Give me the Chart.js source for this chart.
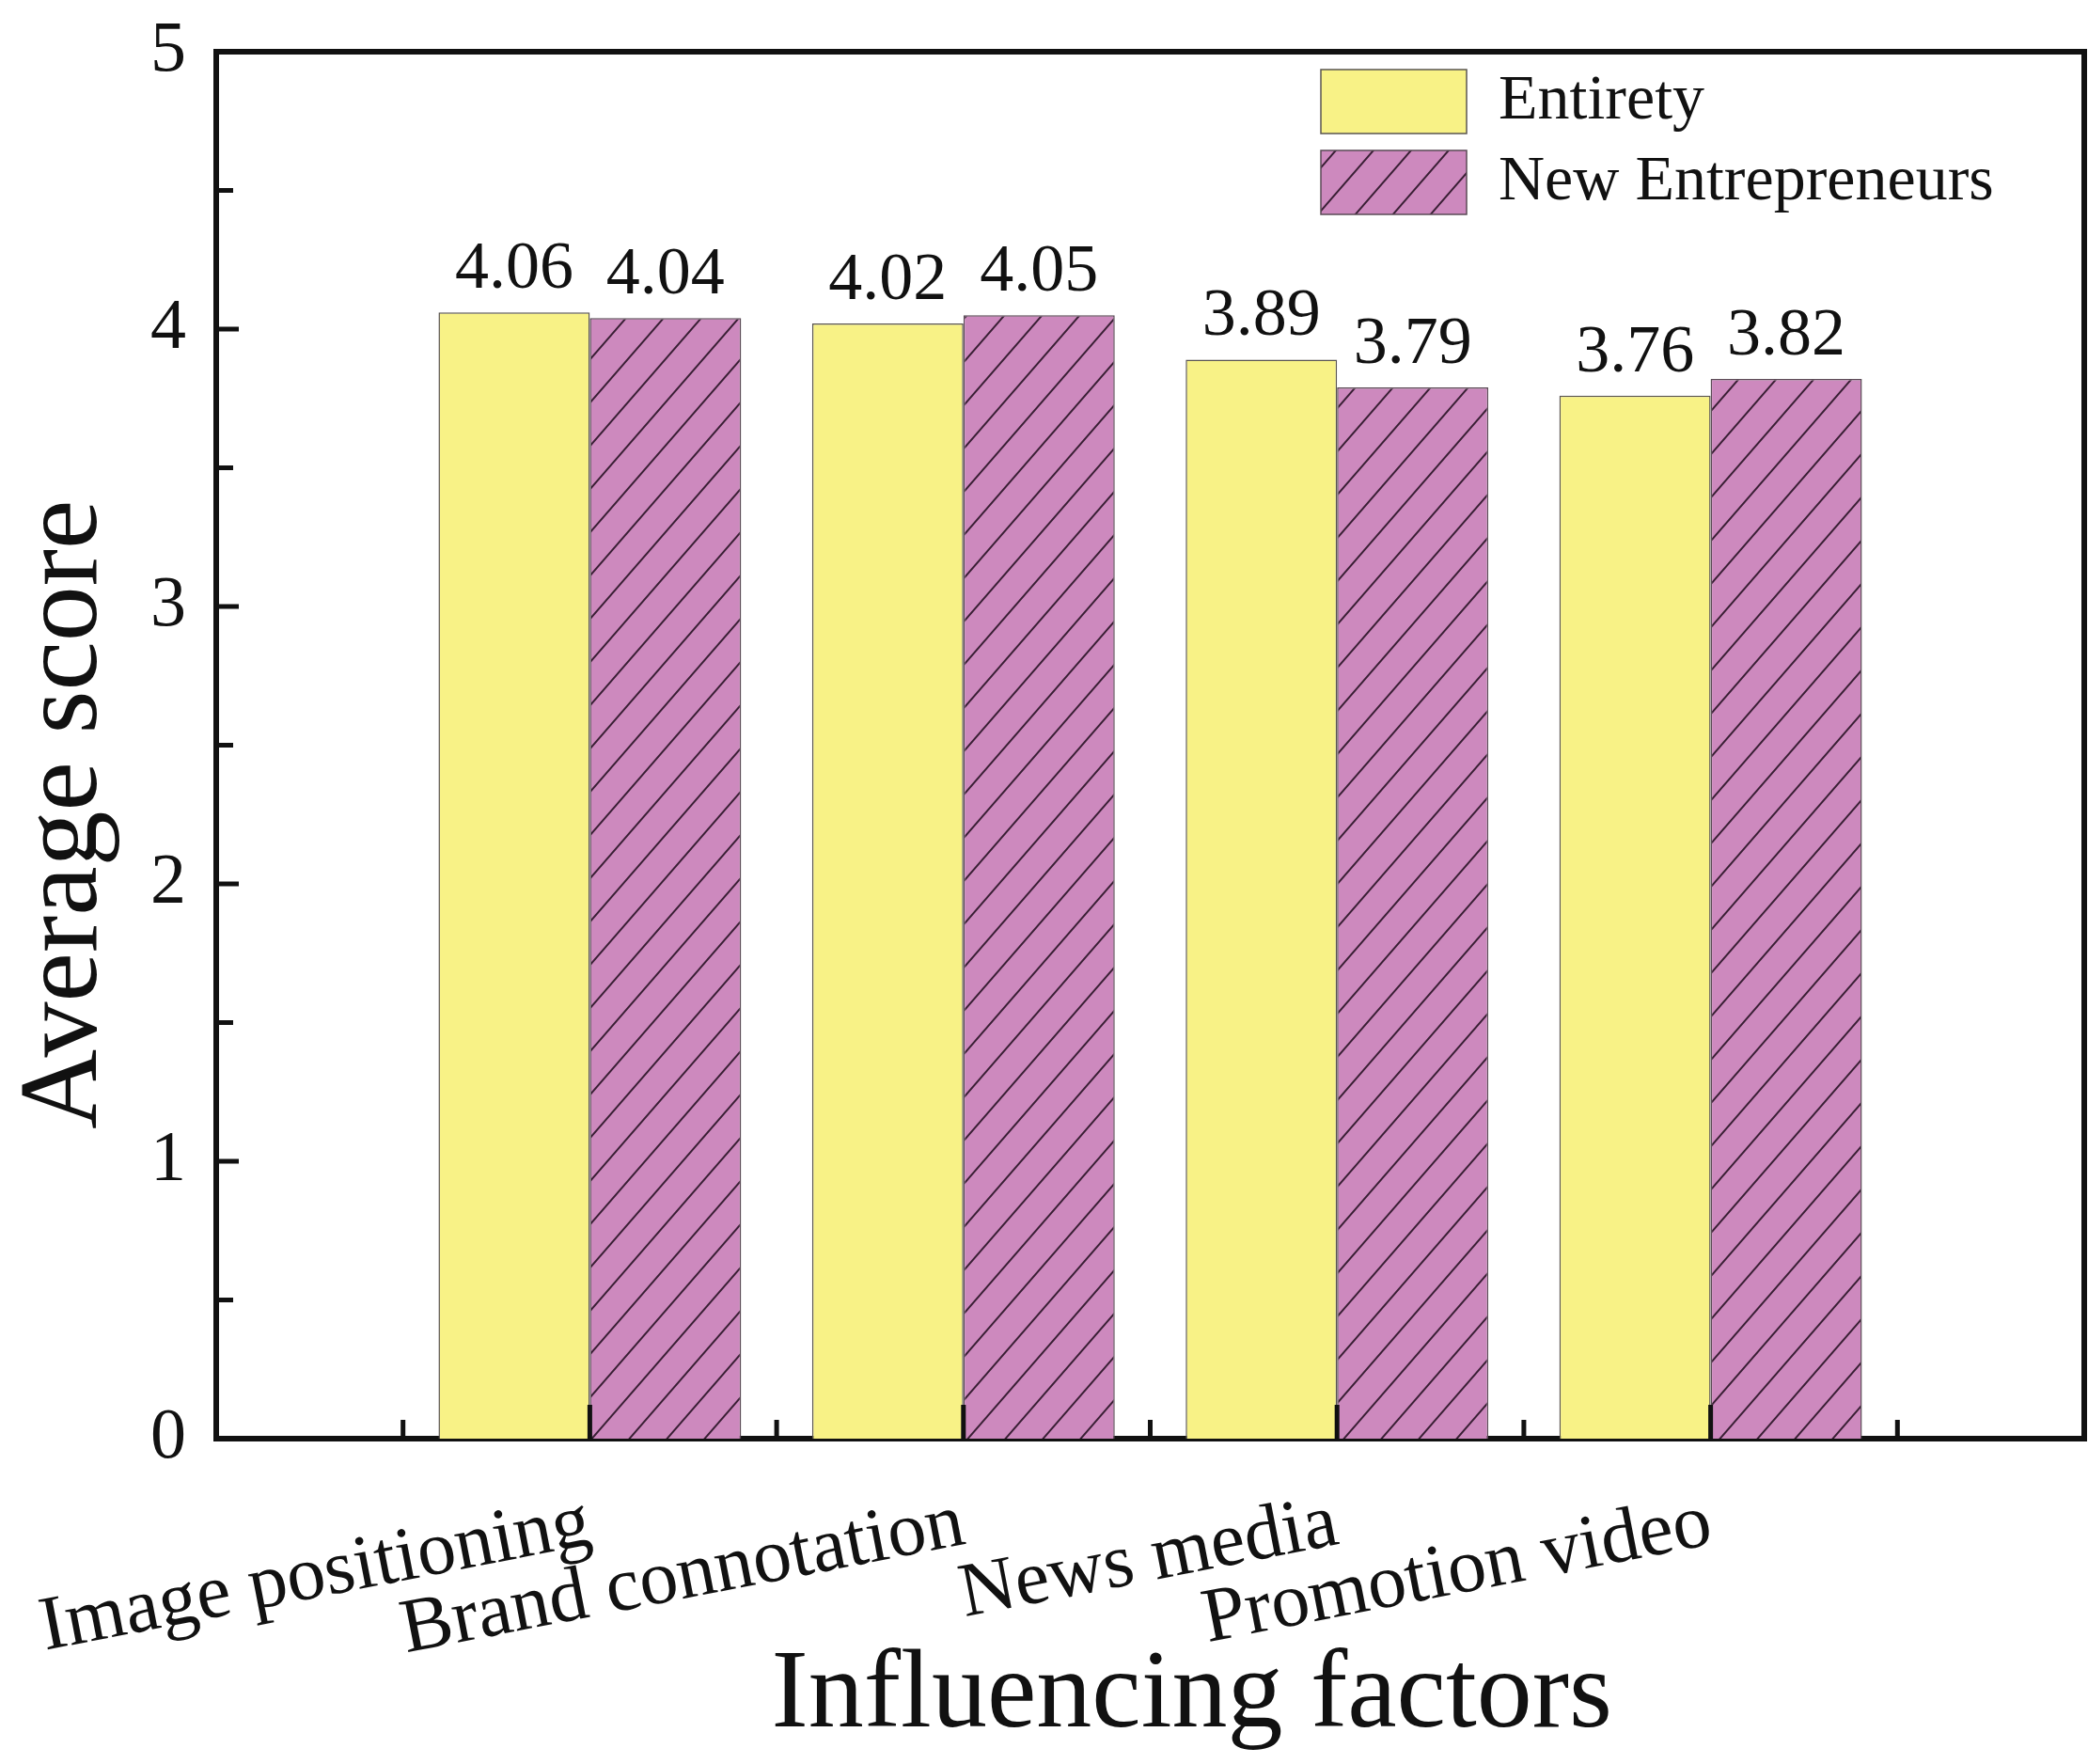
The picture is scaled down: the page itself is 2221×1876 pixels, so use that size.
<!DOCTYPE html>
<html>
<head>
<meta charset="utf-8">
<script src="https://cdn.jsdelivr.net/npm/chart.js@4.4.0/dist/chart.umd.min.js"></script>
<style>
    html, body { margin: 0; padding: 0; background: #fff; overflow: hidden; }
    #chartWrap { width: 2221px; height: 1876px; }
    canvas { display: block; }
</style>
</head>
<body>
<div id="chartWrap"><canvas id="scoreChart" width="2221" height="1876" style="width:2221px;height:1876px;"></canvas></div>
<script>
var categories = ['Image positioning', 'Brand connotation', 'News media', 'Promotion video'];
var entiretyScores = [4.06, 4.02, 3.89, 3.76];
var newEntrepreneurScores = [4.04, 4.05, 3.79, 3.82];
var seriesNames = ['Entirety', 'New Entrepreneurs'];
var yTickValues = [0, 1, 2, 3, 4, 5];

var serif = 'Liberation Serif, Times New Roman, serif';
var ink = '#111111';

// empty slot on each side, so the groups sit at 1..4 on a 0..5 axis
var axisLabels = [''].concat(categories, ['']);
function padded(arr) {
    return [null].concat(arr, [null]);
}

function makeHatch(bg, lineColor) {
    var w = 40, h = 46;
    var c = document.createElement('canvas');
    c.width = w;
    c.height = h;
    var g = c.getContext('2d');
    g.fillStyle = bg;
    g.fillRect(0, 0, w, h);
    g.strokeStyle = lineColor;
    g.lineWidth = 2;
    g.beginPath();
    for (var k = 0; k <= 2; k++) {
        g.moveTo(k * w + w, -h);
        g.lineTo(-w, (k + 1) * h);
    }
    g.stroke();
    return g.createPattern(c, 'repeat');
}

// top/right frame plus the inward tick marks
var framePlugin = {
    id: 'frame',
    afterDatasetsDraw: function (chart) {
        var ctx = chart.ctx;
        var a = chart.chartArea;
        var xs = chart.scales.x;
        var ys = chart.scales.y;
        ctx.save();
        ctx.strokeStyle = ink;
        ctx.lineWidth = 6;
        ctx.beginPath();
        ctx.moveTo(a.left - 3, a.top);
        ctx.lineTo(a.right, a.top);
        ctx.lineTo(a.right, a.bottom + 3);
        ctx.stroke();

        ctx.lineWidth = 5;
        ctx.beginPath();
        for (var v = 0.5; v < 5; v += 0.5) {
            var py = ys.getPixelForValue(v);
            var len = (v % 1 === 0) ? 24 : 18;
            ctx.moveTo(a.left, py);
            ctx.lineTo(a.left + len, py);
        }
        for (var i = 0.5; i < axisLabels.length - 1; i += 0.5) {
            var px = xs.getPixelForValue(i);
            var tl = (i % 1 === 0) ? 36 : 20;
            ctx.moveTo(px, a.bottom);
            ctx.lineTo(px, a.bottom - tl);
        }
        ctx.stroke();
        ctx.restore();
    }
};

var valueLabelPlugin = {
    id: 'valueLabels',
    afterDatasetsDraw: function (chart) {
        var ctx = chart.ctx;
        ctx.save();
        ctx.font = '72px ' + serif;
        ctx.fillStyle = ink;
        ctx.textAlign = 'center';
        ctx.textBaseline = 'bottom';
        chart.data.datasets.forEach(function (ds, di) {
            var meta = chart.getDatasetMeta(di);
            meta.data.forEach(function (bar, i) {
                var v = ds.data[i];
                if (v === null) return;
                ctx.fillText(v.toFixed(2), bar.x, bar.y - 9);
            });
        });
        ctx.restore();
    }
};

// legend sits inside the plot, top right
var legendPlace = {
    id: 'legendPlace',
    afterLayout: function (chart) {
        var lg = chart.legend;
        if (!lg) return;
        var pad = lg.options.labels.padding;
        var w = lg.width, h = lg.height;
        lg.left = 1405 - pad;
        lg.right = lg.left + w;
        lg.top = 74 - pad;
        lg.bottom = lg.top + h;
    }
};

var yellow = '#F8F286';
var pinkHatch = makeHatch('#CD89BE', '#3a1f35');

var scoreChart = new Chart(document.getElementById('scoreChart').getContext('2d'), {
    type: 'bar',
    data: {
        labels: axisLabels,
        datasets: [
            {
                label: seriesNames[0],
                data: padded(entiretyScores),
                backgroundColor: yellow,
                borderColor: '#5a5550',
                borderWidth: 1.5
            },
            {
                label: seriesNames[1],
                data: padded(newEntrepreneurScores),
                backgroundColor: pinkHatch,
                borderColor: '#5a4a55',
                borderWidth: 1.5
            }
        ]
    },
    options: {
        responsive: false,
        animation: false,
        devicePixelRatio: 1,
        categoryPercentage: 0.81,
        barPercentage: 1.0,
        layout: { padding: { top: 55, right: 4, left: 0, bottom: 0 } },
        plugins: {
            legend: {
                position: 'chartArea',
                align: 'start',
                labels: {
                    font: { family: serif, size: 68 },
                    color: ink,
                    boxWidth: 155,
                    boxHeight: 68,
                    padding: 18
                }
            },
            tooltip: { enabled: false }
        },
        scales: {
            x: {
                type: 'category',
                offset: false,
                grid: { display: false, drawTicks: false },
                border: { display: true, color: ink, width: 6 },
                ticks: {
                    autoSkip: false,
                    minRotation: 11,
                    maxRotation: 11,
                    padding: 42,
                    color: ink,
                    font: { family: serif, size: 82 }
                },
                title: {
                    display: true,
                    text: '   Influencing factors',
                    color: ink,
                    font: { family: serif, size: 118 },
                    padding: { top: 0, bottom: 0 }
                },
                afterFit: function (scale) {
                    scale.height = 346;
                    scale.paddingLeft = 0;
                    scale.paddingRight = 0;
                }
            },
            y: {
                min: yTickValues[0],
                max: yTickValues[yTickValues.length - 1],
                grid: { display: false, drawTicks: false },
                border: { display: true, color: ink, width: 6 },
                ticks: {
                    stepSize: 1,
                    padding: 32,
                    color: ink,
                    font: { family: serif, size: 76 }
                },
                title: {
                    display: true,
                    text: 'Average score     ',
                    color: ink,
                    font: { family: serif, size: 118 },
                    padding: { top: 0, bottom: 0 }
                },
                afterFit: function (scale) {
                    scale.width = 230;
                    scale.paddingTop = 0;
                    scale.paddingBottom = 0;
                }
            }
        }
    },
    plugins: [framePlugin, valueLabelPlugin, legendPlace]
});
</script>
</body>
</html>
